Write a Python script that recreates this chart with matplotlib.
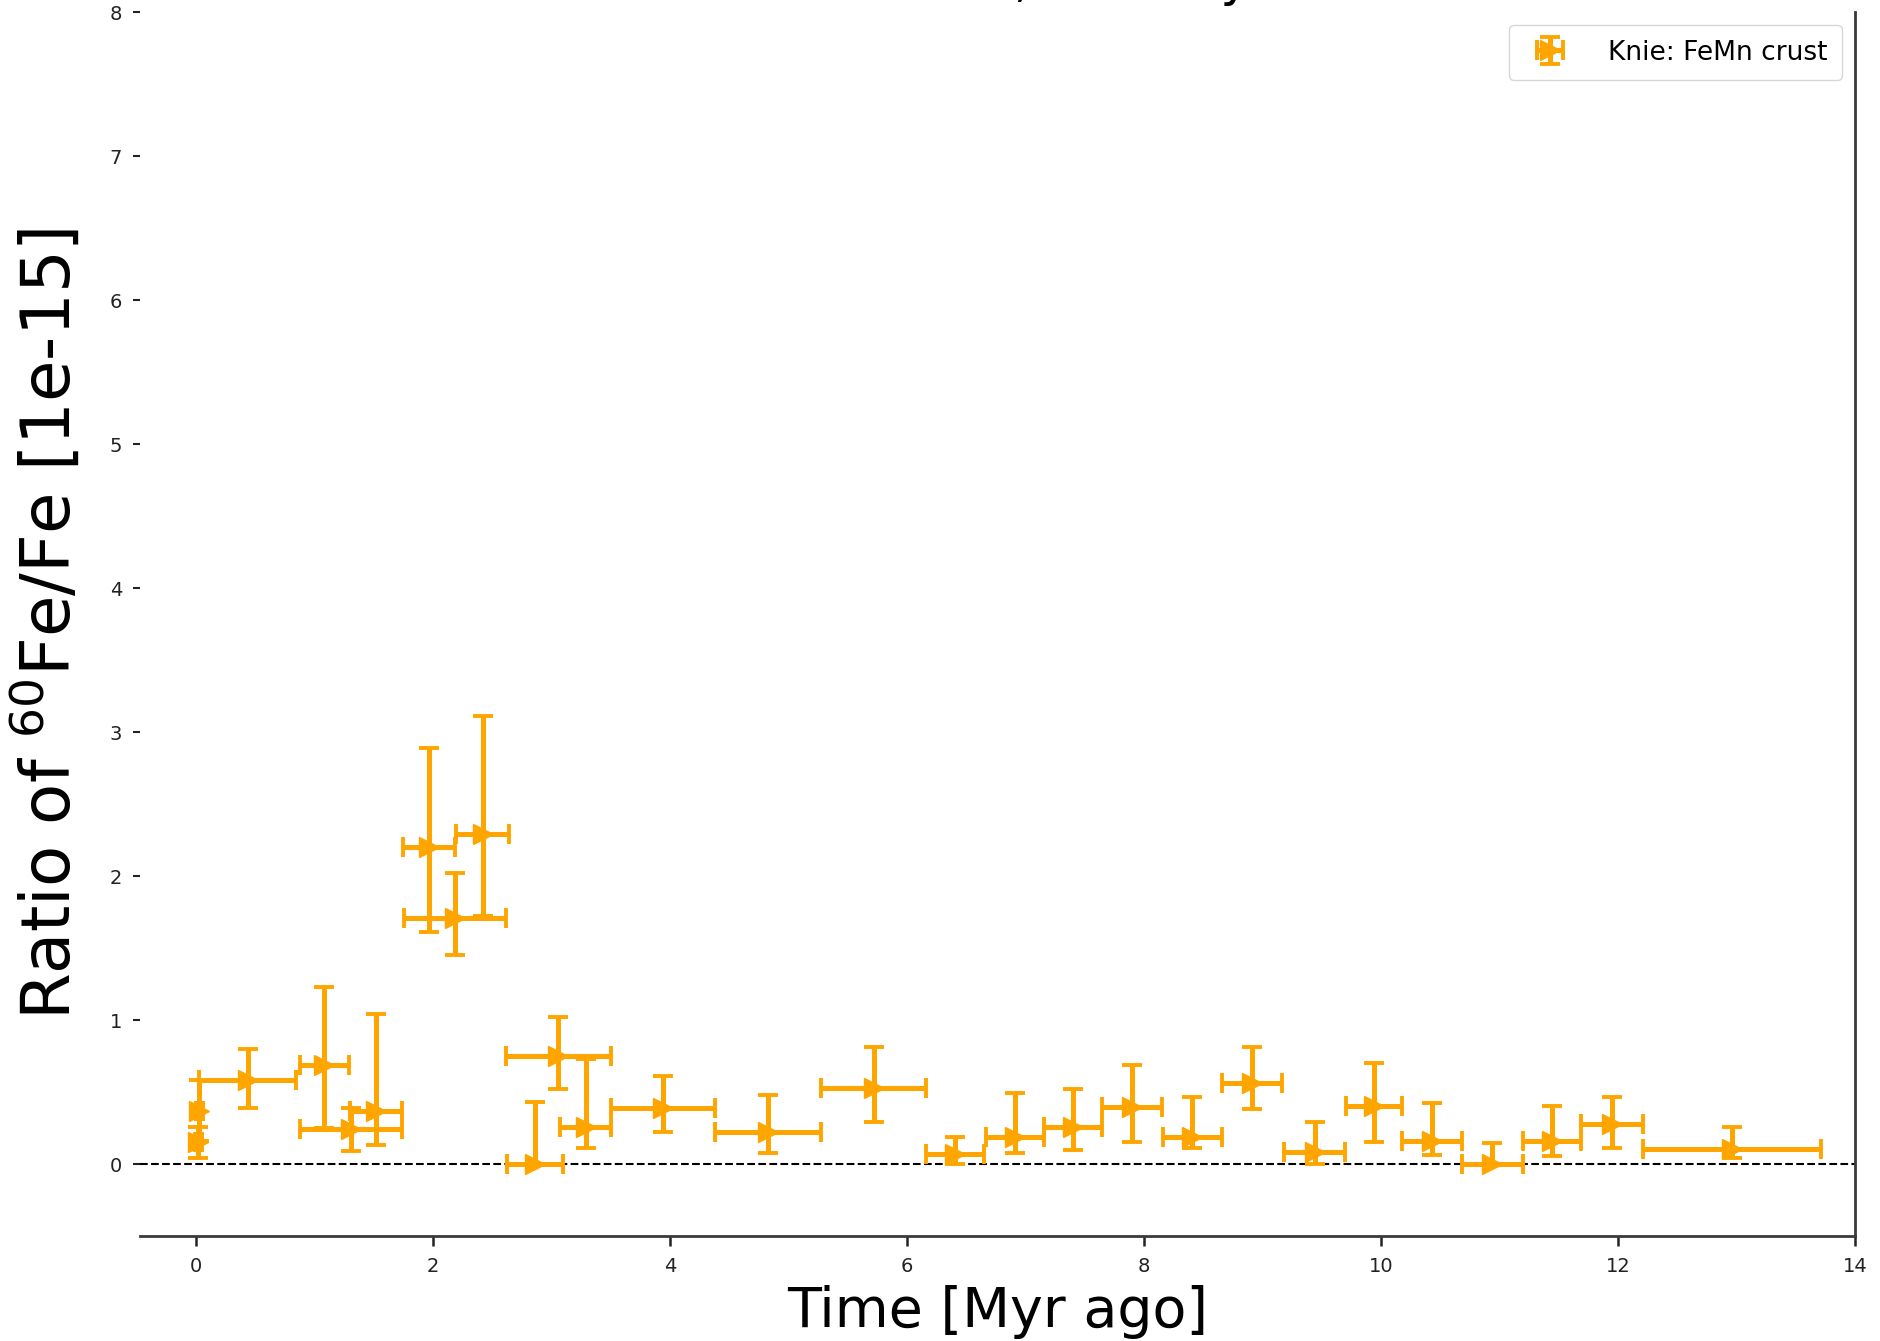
import matplotlib
matplotlib.use("Agg")
import matplotlib.pyplot as plt
import numpy as np

# ---- data ----
time_myr = [0.02, 0.03, 0.44, 1.085, 1.31, 1.52, 1.97, 2.19, 2.42, 2.86,
            3.06, 3.29, 3.94, 4.83, 5.72, 6.41, 6.91, 7.40, 7.90, 8.41,
            8.91, 9.44, 9.94, 10.43, 10.94, 11.44, 11.95, 12.96]
time_err = [0.03, 0.03, 0.41, 0.205, 0.43, 0.22, 0.22, 0.43, 0.225, 0.235,
            0.44, 0.215, 0.44, 0.45, 0.445, 0.245, 0.245, 0.245, 0.255, 0.25,
            0.255, 0.26, 0.235, 0.25, 0.255, 0.245, 0.26, 0.75]
ratio = [0.15, 0.37, 0.58, 0.69, 0.24, 0.37, 2.20, 1.71, 2.29, 0.0,
         0.75, 0.26, 0.39, 0.22, 0.53, 0.07, 0.185, 0.255, 0.395, 0.185,
         0.565, 0.08, 0.405, 0.16, 0.0, 0.16, 0.275, 0.105]
ratio_err_lo = [0.11, 0.21, 0.19, 0.44, 0.15, 0.24, 0.59, 0.26, 0.57, 0.0,
                0.23, 0.15, 0.17, 0.145, 0.235, 0.07, 0.11, 0.16, 0.245, 0.075,
                0.18, 0.08, 0.255, 0.10, 0.0, 0.105, 0.165, 0.065]
ratio_err_hi = [0.11, 0.21, 0.22, 0.54, 0.15, 0.67, 0.69, 0.31, 0.82, 0.43,
                0.27, 0.47, 0.22, 0.26, 0.285, 0.115, 0.31, 0.265, 0.29, 0.28,
                0.25, 0.215, 0.295, 0.265, 0.145, 0.245, 0.19, 0.155]
series_label = "Knie: FeMn crust"
x_ticks = [0, 2, 4, 6, 8, 10, 12, 14]
y_ticks = [0, 1, 2, 3, 4, 5, 6, 7, 8]

W, H = 1881, 1341
fig = plt.figure(figsize=(W / 100, H / 100), dpi=100)
ax = fig.add_axes([140 / W, 1 - 1236 / H, (1855 - 140) / W, (1236 - 12) / H])

ax.axhline(0, color="black", linestyle="--", linewidth=1.5, zorder=1)

ax.errorbar(time_myr, ratio, xerr=time_err,
            yerr=[ratio_err_lo, ratio_err_hi],
            fmt=">", color="orange", ecolor="orange", markersize=14,
            elinewidth=3.6, capsize=7, capthick=2.8,
            label=series_label, zorder=3)

ax.set_xlim(-0.47, 14)
ax.set_ylim(-0.5, 8)
ax.set_xticks(x_ticks)
ax.set_yticks(y_ticks)

for side in ("top", "left"):
    ax.spines[side].set_visible(False)
for side in ("bottom", "right"):
    ax.spines[side].set_color("#3a3a3a")
    ax.spines[side].set_linewidth(2)

ax.tick_params(axis="x", direction="out", length=7, width=1.8, pad=8,
               labelsize=14, colors="#222222")
ax.tick_params(axis="y", direction="out", length=5, width=1.5, pad=8,
               labelsize=14, colors="#222222", right=False)

ax.set_xlabel("Time [Myr ago]", fontsize=40)
ax.set_ylabel(r"Ratio of $^{60}$Fe/Fe [1e-15]", fontsize=48.5)
ax.xaxis.set_label_coords(0.5, -0.040)
ax.yaxis.set_label_coords(-0.033, 0.5)

ax.legend(loc="upper right", fontsize=19, borderpad=0.55,
          handletextpad=1.2)

fig.text(1058 / W, 1.0 + 4 / H, "FeMn crust, 2004 by Knie", fontsize=36,
         ha="center", va="baseline")

fig.savefig("out.png", dpi=100)
